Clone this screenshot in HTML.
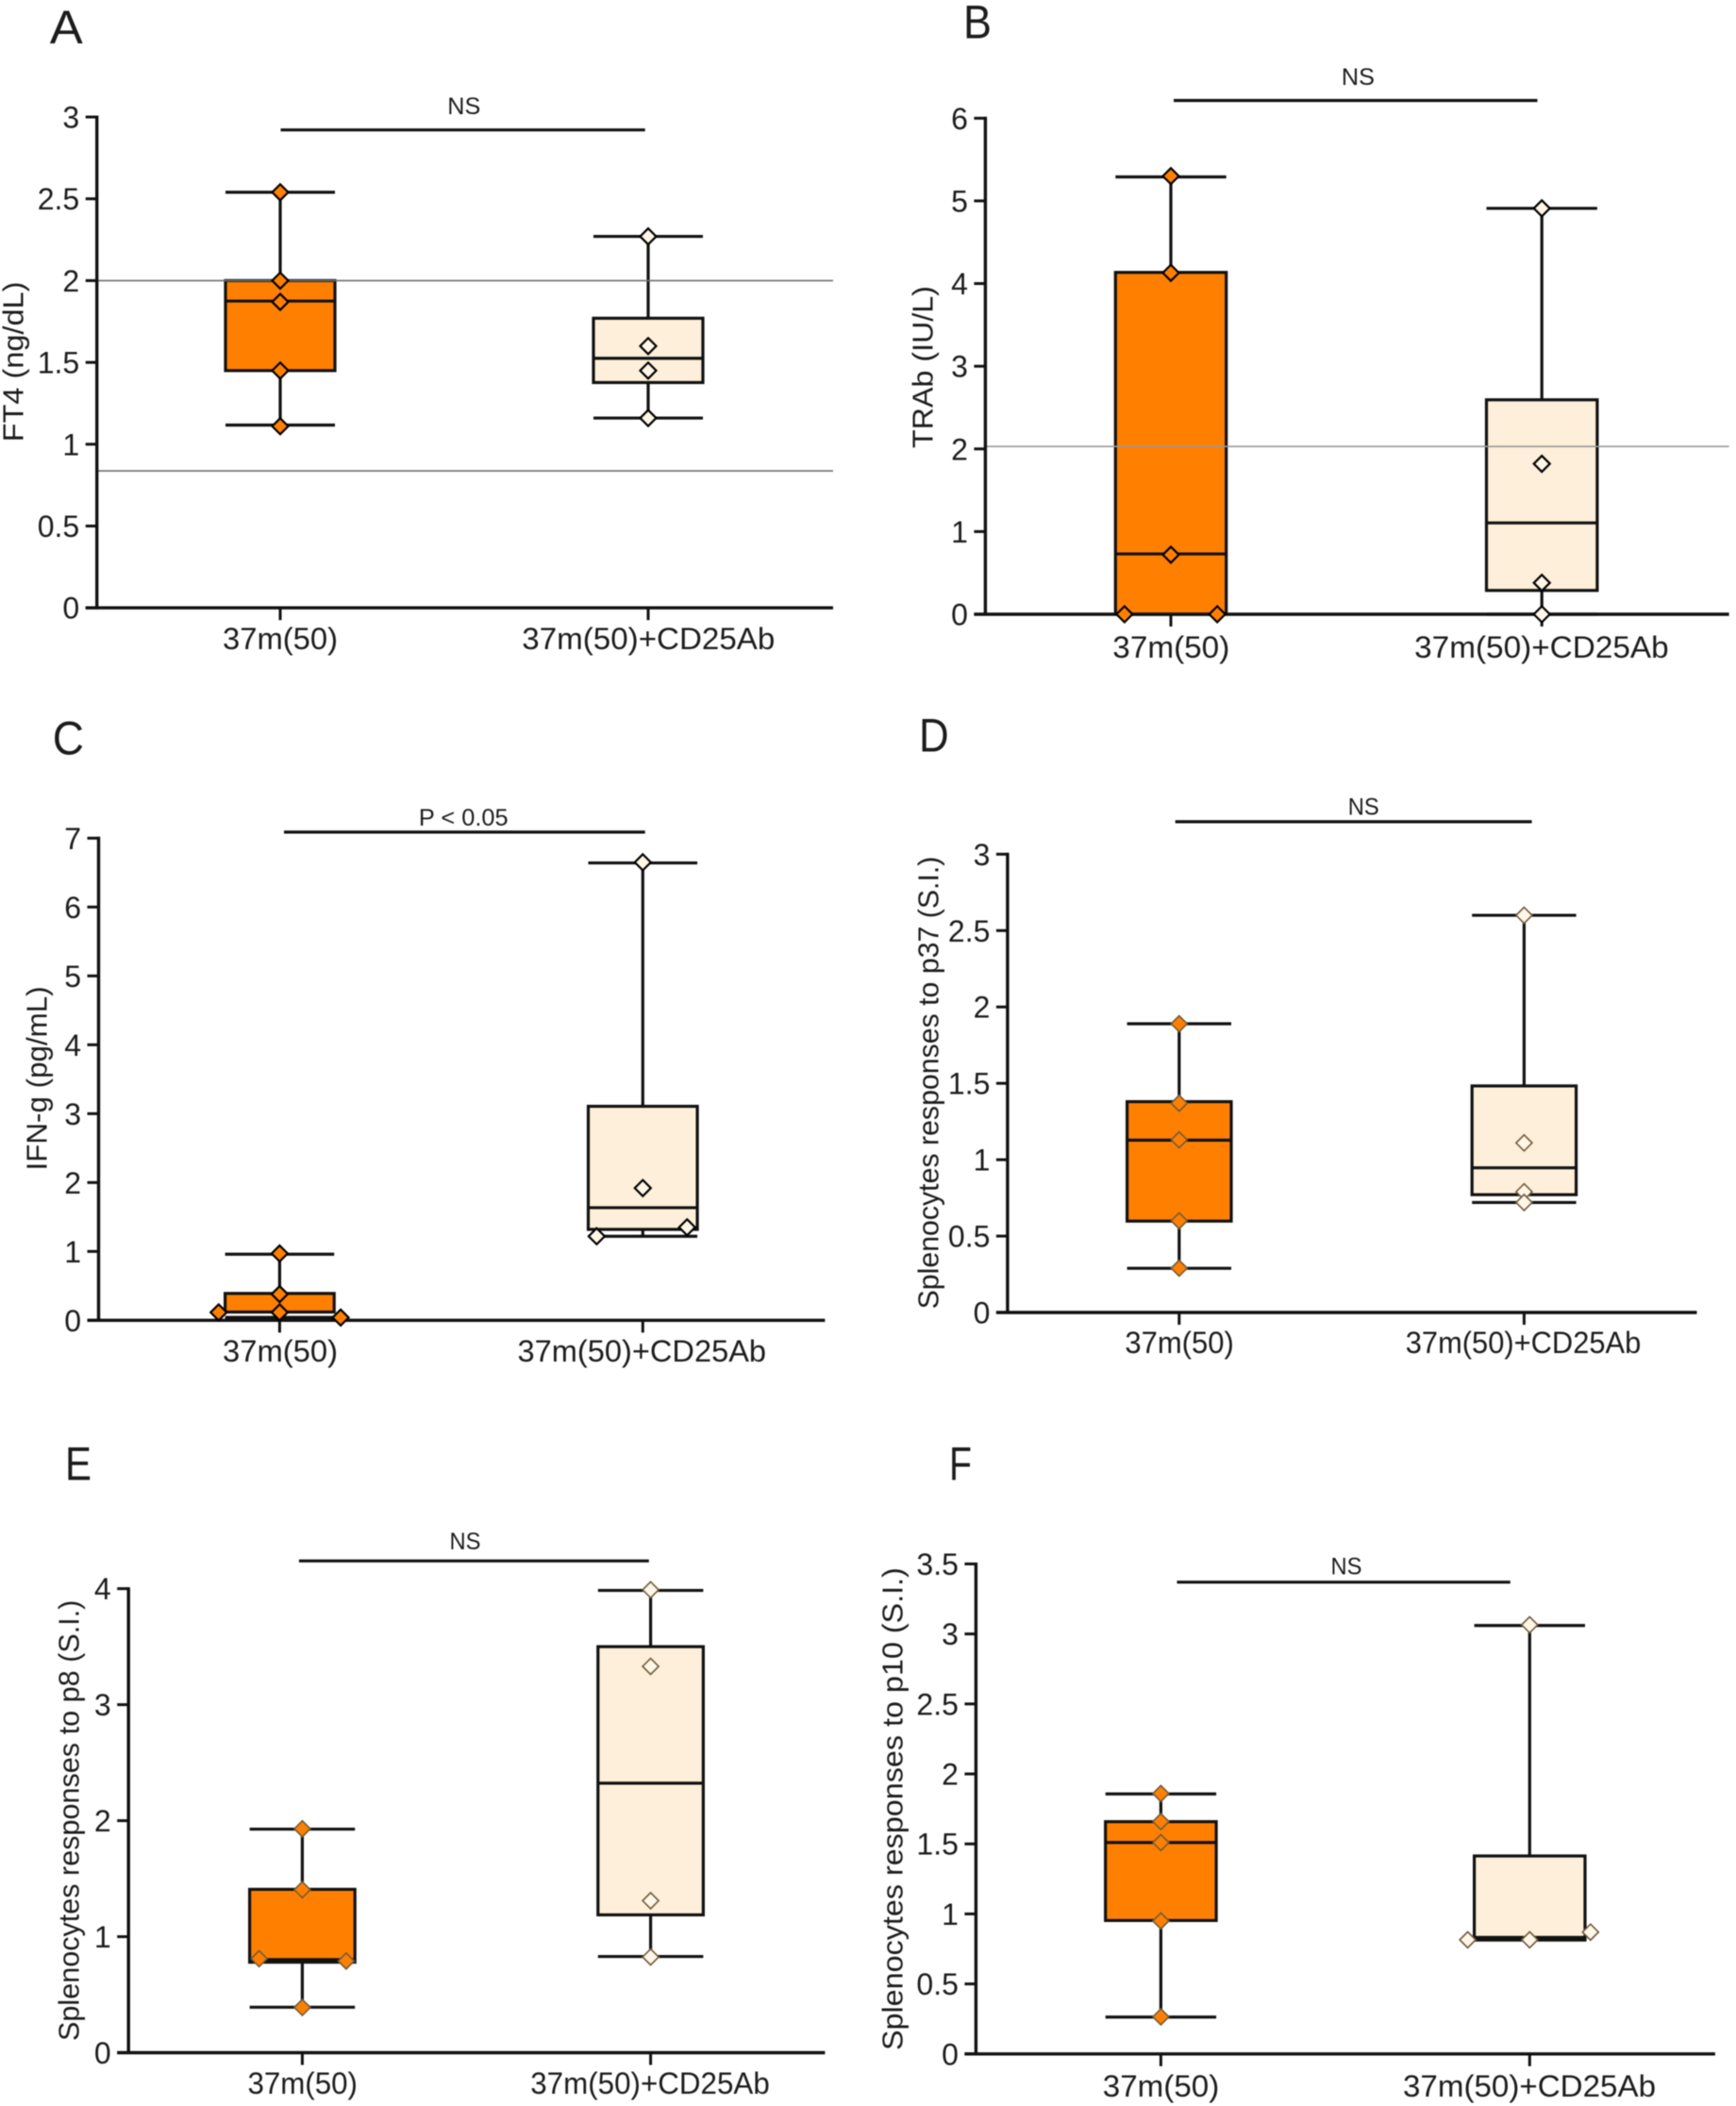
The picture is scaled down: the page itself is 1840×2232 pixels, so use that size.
<!DOCTYPE html>
<html lang="en">
<head>
<meta charset="utf-8">
<title>37m(50) vs 37m(50)+CD25Ab box plots</title>
<style>
html,body{margin:0;padding:0;background:#fff;width:1840px;height:2232px;overflow:hidden}
svg{display:block;filter:blur(0.5px)}
text{font-family:"Liberation Sans",sans-serif;fill:#1c1c1c}
</style>
</head>
<body>
<svg id="figure" xmlns="http://www.w3.org/2000/svg" width="1840" height="2232" viewBox="0 0 1840 2232"></svg>
<script>
// ---- Data ----
const categories = ['37m(50)', '37m(50)+CD25Ab'];

const ticksA = ['0', '0.5', '1', '1.5', '2', '2.5', '3'];
const ticksB = ['0', '1', '2', '3', '4', '5', '6'];
const ticksC = ['0', '1', '2', '3', '4', '5', '6', '7'];
const ticksD = ['0', '0.5', '1', '1.5', '2', '2.5', '3'];
const ticksE = ['0', '1', '2', '3', '4'];
const ticksF = ['0', '0.5', '1', '1.5', '2', '2.5', '3', '3.5'];

// box statistics: [low whisker, box bottom, median, box top, high whisker]
const statsA1 = [1.117, 1.45, 1.875, 2.0, 2.54];
const statsA2 = [1.16, 1.377, 1.525, 1.77, 2.27];
const statsB1 = [0, 0, 0.73, 4.135, 5.29];
const statsB2 = [0, 0.288, 1.105, 2.594, 4.91];
const statsC1 = [0, 0.12, 0.03, 0.39, 0.96];
const statsC2 = [1.22, 1.32, 1.635, 3.107, 6.64];
const statsD1 = [0.289, 0.598, 1.128, 1.38, 1.89];
const statsD2 = [0.72, 0.771, 0.947, 1.483, 2.6];
const statsE1 = [0.392, 0.78, 0.795, 1.408, 1.927];
const statsE2 = [0.829, 1.188, 2.323, 3.5, 3.985];
const statsF1 = [0.263, 0.953, 1.51, 1.659, 1.857];
const statsF2 = [0.814, 0.814, 0.826, 1.414, 3.06];

// individual samples
const pointsA1 = [2.54, 2.0, 1.87, 1.45, 1.11];
const pointsA2 = [2.27, 1.6, 1.45, 1.16];
const pointsB1 = [5.3, 4.13, 0.72, 0, 0];
const pointsB2 = [4.91, 1.82, 0.38, 0];
const pointsC1 = [0.97, 0.38, 0.115, 0.115, 0.04];
const pointsC2 = [6.65, 1.92, 1.35, 1.22];
const pointsD1 = [1.89, 1.37, 1.13, 0.6, 0.29];
const pointsD2 = [2.6, 1.11, 0.79, 0.72];
const pointsE1 = [1.93, 1.405, 0.81, 0.79, 0.39];
const pointsE2 = [3.99, 3.33, 1.31, 0.825];
const pointsF1 = [1.86, 1.66, 1.51, 0.95, 0.265];
const pointsF2 = [3.065, 0.87, 0.815, 0.815];

// horizontal spread of samples, as a fraction of the category spacing
const spreadA1 = [0, 0, 0, 0, 0];
const spreadA2 = [0, 0, 0, 0];
const spreadB1 = [0, 0, 0, -0.125, 0.125];
const spreadB2 = [0, 0, 0, 0];
const spreadC1 = [0, 0, 0, -0.168, 0.168];
const spreadC2 = [0, 0, 0.122, -0.127];
const spreadD1 = [0, 0, 0, 0, 0];
const spreadD2 = [0, 0, 0, 0];
const spreadE1 = [0, 0, -0.124, 0.126, 0];
const spreadE2 = [0, 0, 0, 0];
const spreadF1 = [0, 0, 0, 0, 0];
const spreadF2 = [0, 0.165, 0, -0.168];

// reference levels
const refsA = [2.0, 0.837];
const refsB = [2.03];

// ---- Panel definitions (data references + layout) ----
const panels = [
 {id:'a', letter:'A', title:'FT4 (ng/dL)', sig:'NS', ticks:ticksA, stats:[statsA1,statsA2], pts:[pointsA1,pointsA2], spread:[spreadA1,spreadA2], refs:refsA,
  L:102.7,R:883,T:124,B:644.2,c0:297,c1:687,hw:58,
  sigY:137.7,sigX:[297.5,683.7],sigTx:491.8,sigTy:112.5,sigW:35,labY:677.2,labW:[122,268],labC:[297,687.3],
  titleX:14.6,titleY:[298.4,468.3],lx:52.8,lw:35,lb:46,mk:'#000',mw:2.2,refCol:'#6f6f6f',vmax:3},
 {id:'b', letter:'B', title:'TRAb (IU/L)', sig:'NS', ticks:ticksB, stats:[statsB1,statsB2], pts:[pointsB1,pointsB2], spread:[spreadB1,spreadB2], refs:refsB,
  L:1044.4,R:1832.6,T:125.3,B:651,c0:1241,c1:1634.2,hw:58.7,
  sigY:106.5,sigX:[1244,1629.5],sigTx:1439.4,sigTy:81.7,sigW:35,labY:685.8,labW:[124,269.5],labC:[1241.3,1633.9],
  titleX:978.6,titleY:[303,475],lx:1021,lw:30,lb:40.4,mk:'#000',mw:2.2,refCol:'#999',vmax:6},
 {id:'c', letter:'C', title:'IFN-g (pg/mL)', sig:'P < 0.05', ticks:ticksC, stats:[statsC1,statsC2], pts:[pointsC1,pointsC2], spread:[spreadC1,spreadC2], refs:[],
  L:104.5,R:874.4,T:888.3,B:1399.3,c0:296.4,c1:681.3,hw:57.8,
  sigY:881.9,sigX:[301,683.7],sigTx:491.3,sigTy:866.3,sigW:94.7,labY:1432,labW:[122,263.5],labC:[297,680.3],
  titleX:39.3,titleY:[1045.3,1240.5],lx:55.8,lw:33.2,lb:799.7,mk:'#000',mw:2.2,refCol:'#777',vmax:7},
 {id:'d', letter:'D', title:'Splenocytes responses to p37 (S.I.)', sig:'NS', ticks:ticksD, stats:[statsD1,statsD2], pts:[pointsD1,pointsD2], spread:[spreadD1,spreadD2], refs:[],
  L:1067.9,R:1798.5,T:905.3,B:1391,c0:1249.8,c1:1615.4,hw:55.2,
  sigY:870.9,sigX:[1245.7,1623.6],sigTx:1445.2,sigTy:854.8,sigW:33,labY:1423,labW:[115.5,249.5],labC:[1250.1,1614.5],
  titleX:984.5,titleY:[907.6,1387.4],lx:974,lw:31.7,lb:796.5,mk:'#6e5a3c',mw:1.6,refCol:'#777',vmax:3},
 {id:'e', letter:'E', title:'Splenocytes responses to p8 (S.I.)', sig:'NS', ticks:ticksE, stats:[statsE1,statsE2], pts:[pointsE1,pointsE2], spread:[spreadE1,spreadE2], refs:[],
  L:136.2,R:874.4,T:1683.7,B:2175.5,c0:320.4,c1:689.6,hw:55.8,
  sigY:1654.3,sigX:[316.9,687.8],sigTx:493,sigTy:1633.7,sigW:33,labY:2207.8,labW:[116.5,253.5],labC:[320.7,689],
  titleX:73.3,titleY:[1695.7,2163],lx:69,lw:28,lb:1568.5,mk:'#6e5a3c',mw:1.6,refCol:'#777',vmax:4},
 {id:'f', letter:'F', title:'Splenocytes responses to p10 (S.I.)', sig:'NS', ticks:ticksF, stats:[statsF1,statsF2], pts:[pointsF1,pointsF2], spread:[spreadF1,spreadF2], refs:[],
  L:1034.4,R:1817.9,T:1657.5,B:2176.8,c0:1230.4,c1:1621.3,hw:58.7,
  sigY:1676.8,sigX:[1247.5,1600.8],sigTx:1427,sigTy:1659.8,sigW:33,labY:2210.8,labW:[123.5,268],labC:[1230.5,1621],
  titleX:946.3,titleY:[1661.2,2173],lx:1006,lw:24,lb:1568.5,mk:'#6e5a3c',mw:1.6,refCol:'#777',vmax:3.5}
];

const seriesFill = ['#ff8000', '#fdefd9'];
const svgNS = 'http://www.w3.org/2000/svg';
const root = document.getElementById('figure');

function make(parent, tag, name, attrs, content) {
  const el = document.createElementNS(svgNS, tag);
  for (const k in attrs) el.setAttribute(k, attrs[k]);
  
  
  if (content !== undefined) el.textContent = content;
  parent.appendChild(el);
  return el;
}
function line(parent, name, x1, y1, x2, y2, stroke, w) {
  return make(parent, 'line', name, {x1, y1, x2, y2, stroke, 'stroke-width': w});
}

panels.forEach(p => {
  const g = make(root, 'g', 'panel-' + p.id, {});
  const y = v => p.B - (v / p.vmax) * (p.B - p.T);
  const x = i => p.c0 + i * (p.c1 - p.c0);

  // panel letter
  make(g, 'text', 'panel-letter-' + p.id, {x: p.lx, y: p.lb, 'font-size': 50, textLength: p.lw, lengthAdjust: 'spacingAndGlyphs'}, p.letter);

  // boxes and whiskers
  const marks = make(g, 'g', 'series-' + p.id, {});
  categories.forEach((cat, i) => {
    const s = p.stats[i];
    const cx = x(i);
    const tag = p.id + '-group-' + (i + 1);
    line(marks, 'whisker-' + tag, cx, y(s[0]), cx, y(s[4]), '#111', 3.2);
    line(marks, 'whisker-cap-low-' + tag, cx - p.hw, y(s[0]), cx + p.hw, y(s[0]), '#111', 3.2);
    line(marks, 'whisker-cap-high-' + tag, cx - p.hw, y(s[4]), cx + p.hw, y(s[4]), '#111', 3.2);
    make(marks, 'rect', 'box-' + tag, {x: cx - p.hw, y: y(s[3]), width: 2 * p.hw, height: y(s[1]) - y(s[3]), fill: seriesFill[i], stroke: '#111', 'stroke-width': 3.2});
    const thick = Math.abs(s[2] - s[1]) < 0.05 * p.vmax / 3 ? 5 : 3.2;
    line(marks, 'median-' + tag, cx - p.hw, y(s[2]), cx + p.hw, y(s[2]), '#111', thick);
  });

  // reference lines
  p.refs.forEach((r, i) => {
    line(g, 'reference-line-' + p.id + '-' + (i + 1), p.L, y(r), p.R, y(r), p.refCol, 1.6);
  });

  // axes
  line(g, 'y-axis-' + p.id, p.L, p.T - 1.5, p.L, p.B + 1.5, '#111', 3.4);
  line(g, 'x-axis-' + p.id, p.L - 12, p.B, p.R, p.B, '#111', 3.4);
  p.ticks.forEach(t => {
    const ty = y(Number(t));
    line(g, 'y-tick-' + p.id + '-' + t, p.L - 12, ty, p.L, ty, '#111', 3);
    make(g, 'text', 'y-tick-label-' + p.id + '-' + t, {x: p.L - 18.5, y: ty + 11.5, 'font-size': 32, 'text-anchor': 'end'}, t);
  });
  categories.forEach((cat, i) => {
    line(g, 'x-tick-' + p.id + '-' + (i + 1), x(i), p.B, x(i), p.B + 13, '#111', 3);
    make(g, 'text', 'x-tick-label-' + p.id + '-' + (i + 1), {x: p.labC[i], y: p.labY + 11, 'font-size': 32, 'text-anchor': 'middle', textLength: p.labW[i], lengthAdjust: 'spacingAndGlyphs'}, cat);
  });

  // sample markers
  const dots = make(g, 'g', 'points-' + p.id, {});
  categories.forEach((cat, i) => {
    p.pts[i].forEach((v, k) => {
      const px = x(i + p.spread[i][k]);
      const py = y(v);
      const r = 8.5;
      make(dots, 'polygon', 'sample-point-' + p.id + '-' + (i + 1) + '-' + (k + 1), {
        points: [px, py - r, px + r, py, px, py + r, px - r, py].join(' '),
        fill: i === 0 ? seriesFill[0] : '#fff6e6',
        stroke: p.mk,
        'stroke-width': p.mw
      });
    });
  });

  // significance bar
  line(g, 'significance-bar-' + p.id, p.sigX[0], p.sigY, p.sigX[1], p.sigY, '#111', 3.2);
  make(g, 'text', 'significance-label-' + p.id, {x: p.sigTx, y: p.sigTy + 8.5, 'font-size': 25, 'text-anchor': 'middle', textLength: p.sigW, lengthAdjust: 'spacingAndGlyphs'}, p.sig);

  // y axis title
  const midY = (p.titleY[0] + p.titleY[1]) / 2;
  make(g, 'text', 'y-axis-title-' + p.id, {
    x: p.titleX + 10, y: midY, 'font-size': 31, 'text-anchor': 'middle',
    transform: 'rotate(-90 ' + (p.titleX + 10) + ' ' + midY + ')',
    textLength: p.titleY[1] - p.titleY[0], lengthAdjust: 'spacingAndGlyphs'
  }, p.title);
});
</script>
</body>
</html>
